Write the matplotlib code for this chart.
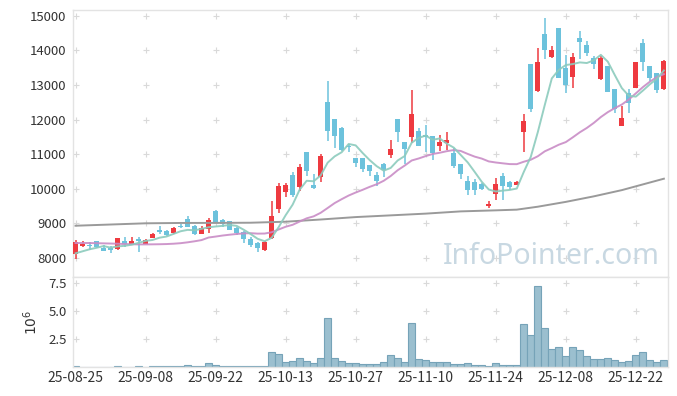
import numpy as np
import pandas as pd
import matplotlib
matplotlib.use('Agg')
import matplotlib.pyplot as plt

plt.rcParams['font.family'] = ['Noto Sans CJK KR', 'DejaVu Sans']

# ---------------- data ----------------
opens = [8100, 8350, 8380, 8480, 8280, 8300, 8250, 8480, 8370, 8550,
         8410, 8580, 8810, 8780, 8730, 8930, 9120, 8910, 8700, 8840,
         9360, 9090, 9060, 8860, 8760, 8550, 8420, 8240, 8570, 9420,
         9910, 10400, 10060, 11050, 10110, 10350, 12500, 12020, 11760, 11220,
         10880, 10880, 10690, 10400, 10710, 10980, 12010, 11340, 11500, 11670,
         11550, 11520, 11250, 11330, 11040, 10710, 10220, 10200, 10130, 9510,
         9850, 10370, 10200, 10110, 11630, 13610, 12840, 14470, 13820, 14640,
         13480, 13240, 14350, 14160, 13790, 13170, 13550, 12880, 11820, 12760,
         12920, 14220, 13550, 13340, 12880]
highs = [8520, 8480, 8470, 8500, 8370, 8350, 8580, 8600, 8600, 8610,
         8540, 8720, 8920, 8810, 8880, 8980, 9210, 8940, 8910, 9150,
         9380, 9120, 9080, 8900, 8780, 8590, 8450, 8500, 9650, 10170,
         10170, 10470, 10710, 11060, 10420, 11000, 13110, 12020, 11790, 11300,
         10890, 10900, 10700, 10470, 10740, 11410, 12020, 11350, 12850, 11770,
         11840, 11530, 11550, 11650, 11170, 10720, 10380, 10270, 10170, 9640,
         10300, 10450, 10210, 10210, 12150, 13620, 14060, 14930, 14130, 14650,
         13880, 13930, 14550, 14280, 13850, 13840, 13560, 12890, 12400, 12880,
         13680, 14320, 13560, 13350, 13720]
lows = [7960, 8320, 8230, 8300, 8200, 8150, 8240, 8320, 8360, 8180,
        8400, 8580, 8690, 8630, 8690, 8860, 8890, 8660, 8700, 8730,
        9000, 8880, 8810, 8650, 8440, 8320, 8180, 8200, 8560, 9310,
        9770, 9770, 9930, 10380, 10000, 10190, 11380, 11170, 11100, 11060,
        10620, 10490, 10380, 10090, 10330, 10900, 11340, 10720, 11310, 11240,
        11070, 10830, 11090, 11120, 10610, 10280, 9820, 9820, 9960, 9450,
        9670, 9670, 9960, 10100, 11050, 12210, 12810, 13740, 13770, 13200,
        12780, 12900, 13750, 13830, 13450, 13150, 12800, 12180, 11820, 12200,
        12900, 13400, 13120, 12760, 12860]
closes = [8460, 8390, 8330, 8320, 8210, 8230, 8570, 8410, 8480, 8480,
          8520, 8700, 8740, 8650, 8860, 8900, 8900, 8680, 8860, 9090,
          9010, 8990, 8810, 8730, 8540, 8380, 8300, 8460, 9220, 10080,
          10110, 9830, 10620, 10510, 10010, 10950, 11680, 11530, 11110, 11200,
          10750, 10570, 10510, 10230, 10550, 11150, 11650, 11150, 12160, 11240,
          11490, 11040, 11340, 11410, 10670, 10420, 9960, 9960, 9990, 9560,
          10130, 10090, 10060, 10190, 11960, 12310, 13660, 14010, 14010, 13210,
          13000, 13800, 14250, 13920, 13600, 13790, 12810, 12300, 12050, 12490,
          13670, 13680, 13210, 12850, 13690]
volumes_m = [0.12, 0.03, 0.03, 0.03, 0.03, 0.03, 0.12, 0.03, 0.03, 0.12,
             0.05, 0.10, 0.10, 0.10, 0.10, 0.10, 0.20, 0.10, 0.10, 0.39,
             0.20, 0.10, 0.10, 0.10, 0.10, 0.10, 0.10, 0.10, 1.34, 1.16,
             0.48, 0.57, 0.80, 0.57, 0.39, 0.80, 4.38, 0.80, 0.57, 0.39,
             0.42, 0.27, 0.27, 0.27, 0.45, 1.07, 0.80, 0.45, 3.93, 0.71,
             0.65, 0.45, 0.45, 0.45, 0.27, 0.27, 0.36, 0.18, 0.18, 0.09,
             0.36, 0.18, 0.18, 0.18, 3.84, 2.86, 7.23, 3.48, 1.61, 1.79,
             0.98, 1.79, 1.52, 0.98, 0.71, 0.71, 0.80, 0.63, 0.45, 0.54,
             1.07, 1.34, 0.63, 0.45, 0.63]
# moving-average values at the start of the window (earlier data not shown)
ma5_head = [8132, 8190, 8248, 8292]
ma20_head = [8430, 8430, 8430, 8425, 8420, 8415, 8410, 8400, 8395, 8390,
             8390, 8392, 8395, 8400, 8410, 8425, 8450, 8480, 8515]
# long moving average
ma_long_idx = [0, 5, 10, 15, 20, 25, 30, 35, 40, 45, 50, 55, 60, 63, 66, 70, 74, 78, 82, 84]
ma_long_val = [8930, 8965, 9000, 9010, 9012, 9017, 9046, 9110, 9180, 9230,
               9280, 9345, 9375, 9395, 9480, 9620, 9780, 9960, 10180, 10290]
tick_labels = ['25-08-25', '25-09-08', '25-09-22', '25-10-13', '25-10-27',
               '25-11-10', '25-11-24', '25-12-08', '25-12-22']

# ---------------- derived ----------------
o = np.array(opens, float)
h = np.array(highs, float)
l = np.array(lows, float)
c = np.array(closes, float)
n = len(c)
x = np.arange(n)
ma5 = pd.Series(c).rolling(5).mean().to_numpy()
ma5[:len(ma5_head)] = ma5_head
ma20 = pd.Series(c).rolling(20).mean().to_numpy()
ma20[:len(ma20_head)] = ma20_head

UP = '#ee3a40'
DOWN = '#6cc2dc'
GRIDC = '#d9d9d9'
SPINEC = '#e3e3e3'
TXT = '#333333'

fig = plt.figure(figsize=(6.77, 3.96), dpi=100)
ax = fig.add_axes([0.1074, 0.3005, 0.8789, 0.6742])
axv = fig.add_axes([0.1074, 0.0725, 0.8789, 0.2280], sharex=ax)

# grid crosses
tick_pos = list(range(0, n, 10))
for xi in tick_pos:
    for yv in range(8000, 15001, 1000):
        ax.plot(xi, yv, marker='+', color=GRIDC, ms=5, mew=0.8, zorder=0)
    for yv in (2.5, 5.0, 7.5):
        axv.plot(xi, yv, marker='+', color=GRIDC, ms=5, mew=0.8, zorder=0)

# watermark
ax.text(0.987, 0.078, 'InfoPointer.com', transform=ax.transAxes, ha='right',
        va='center', fontsize=20.5, color='#c8d8e2', family=['Noto Sans', 'DejaVu Sans'],
        zorder=1)

# candles
up = c >= o
colors = np.where(up, UP, DOWN)
ax.vlines(x, l, h, colors=colors, linewidth=1.1, zorder=2)
body_bottom = np.minimum(o, c)
body_h = np.maximum(np.abs(c - o), 25)
ax.bar(x, body_h, bottom=body_bottom, width=0.72, color=colors, linewidth=0, zorder=3)

# moving averages
ax.plot(ma_long_idx, ma_long_val, color='#9a9a9a', lw=1.4, zorder=4)
ax.plot(x, ma20, color='#c98cc6', lw=1.4, alpha=0.9, zorder=4)
ax.plot(x, ma5, color='#8ccbbd', lw=1.4, alpha=0.9, zorder=4)

ax.set_xlim(-0.4, n - 0.45)
ax.set_ylim(7447, 15169)
ax.set_yticks(range(8000, 15001, 1000))
ax.tick_params(axis='y', length=0, pad=4.5, labelsize=9.5, labelcolor=TXT)
ax.tick_params(axis='x', length=0, labelbottom=False)

# volume
axv.bar(x, volumes_m, width=1.0, color='#9bbfcf', edgecolor='#76a3b8', linewidth=0.8, zorder=2)
axv.set_ylim(0, 8.04)
axv.set_yticks([2.5, 5.0, 7.5])
axv.set_yticklabels(['2.5', '5.0', '7.5'])
axv.set_xticks(tick_pos)
axv.set_xticklabels(tick_labels)
axv.tick_params(axis='both', length=0, labelsize=9.5, labelcolor=TXT)
axv.tick_params(axis='x', labelsize=10)
axv.tick_params(axis='y', pad=4.5)
axv.tick_params(axis='x', pad=3)
axv.set_ylabel(r'$10^{6}$', fontsize=10, color=TXT, labelpad=6)

for a in (ax, axv):
    for s in a.spines.values():
        s.set_color(SPINEC)
        s.set_linewidth(1.0)

fig.savefig('out.png', dpi=100)
